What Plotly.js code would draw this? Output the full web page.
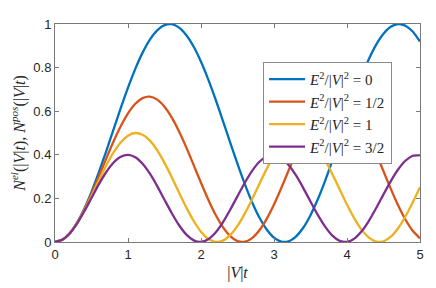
<!DOCTYPE html>
<html><head><meta charset="utf-8">
<script src="https://cdn.plot.ly/plotly-3.0.1.min.js"></script>
<style>html,body{margin:0;padding:0;background:#fff}#c{width:436px;height:288px}</style>
</head><body><div id="c"></div>
<script>
const t = [0,0.1,0.2,0.3,0.4,0.5,0.6,0.7,0.8,0.9,1.0,1.1,1.2,1.3,1.4,1.5,1.6,1.7,1.8,1.9,2.0,2.1,2.2,2.3,2.4,2.5,2.6,2.7,2.8,2.9,3.0,3.1,3.2,3.3,3.4,3.5,3.6,3.7,3.8,3.9,4.0,4.1,4.2,4.3,4.4,4.5,4.6,4.7,4.8,4.9,5.0];
const nE0 = [0,0.00997,0.03947,0.08733,0.15164,0.22985,0.31882,0.41502,0.51460,0.61360,0.70807,0.79425,0.86869,0.92845,0.97111,0.99499,0.99915,0.98339,0.94838,0.89548,0.82682,0.74513,0.65367,0.55608,0.45625,0.35817,0.26574,0.18265,0.11222,0.05724,0.01991,0.00173,0.00341,0.02489,0.06530,0.12305,0.19582,0.28073,0.37437,0.47303,0.57275,0.66958,0.75965,0.83937,0.90554,0.95557,0.98742,0.99984,0.99234,0.96521,0.91953];
const nEhalf = [0,0.00995,0.03920,0.08602,0.14760,0.22027,0.29969,0.38112,0.45969,0.53072,0.58997,0.63389,0.65988,0.66636,0.65297,0.62049,0.57087,0.50707,0.43289,0.35278,0.27150,0.19391,0.12465,0.06784,0.02689,0.00423,0.00122,0.01803,0.05367,0.10601,0.17192,0.24746,0.32813,0.40911,0.48557,0.55294,0.60720,0.64510,0.66440,0.66393,0.64373,0.60499,0.55003,0.48214,0.40537,0.32429,0.24375,0.16857,0.10321,0.05160,0.01681];
const nE1 = [0,0.00993,0.03894,0.08473,0.14365,0.21101,0.28148,0.34945,0.40951,0.45690,0.48784,0.49989,0.49207,0.46502,0.42088,0.36317,0.29646,0.22605,0.15756,0.09640,0.04745,0.01460,0.00046,0.00615,0.03121,0.07366,0.13013,0.19612,0.26639,0.33536,0.39755,0.44801,0.48274,0.49897,0.49541,0.47236,0.43163,0.37647,0.31126,0.24118,0.17180,0.10864,0.05671,0.02014,0.00184,0.00326,0.02428,0.06325,0.11705,0.18142,0.25124];
const nE3half = [0,0.00992,0.03869,0.08345,0.13977,0.20207,0.26416,0.31989,0.36373,0.39133,0.39996,0.38876,0.35884,0.31316,0.25627,0.19380,0.13194,0.07683,0.03393,0.00751,0.00017,0.01265,0.04371,0.09027,0.14771,0.21034,0.27193,0.32641,0.36834,0.39357,0.39962,0.38586,0.35367,0.30625,0.24828,0.18553,0.12422,0.07042,0.02947,0.00543,0.00068,0.01571,0.04901,0.09728,0.15574,0.21859,0.27960,0.33271,0.37266,0.39549,0.39893];
const seriesNames = [
  '<i>E</i><sup>2</sup>/|<i>V</i>|<sup>2</sup> = 0',
  '<i>E</i><sup>2</sup>/|<i>V</i>|<sup>2</sup> = 1/2',
  '<i>E</i><sup>2</sup>/|<i>V</i>|<sup>2</sup> = 1',
  '<i>E</i><sup>2</sup>/|<i>V</i>|<sup>2</sup> = 3/2'
];
const xTicks = [0,1,2,3,4,5];
const yTicks = [0,0.2,0.4,0.6,0.8,1];
const yTickText = ['0','0.2','0.4','0.6','0.8','1'];
const colors = ['#0072BD','#D95319','#EDB120','#7E2F8E'];
const ys = [nE0, nEhalf, nE1, nE3half];
const traces = ys.map((y,i)=>({x:t, y:y, type:'scatter', mode:'lines', name:seriesNames[i],
  line:{color:colors[i], width:2.3, shape:'spline', smoothing:0.6}}));
const axCommon = {showgrid:false, zeroline:false, showline:true, linecolor:'#7a7a7a', linewidth:1,
  mirror:'ticks', ticks:'inside', ticklen:4, tickcolor:'#7a7a7a',
  tickfont:{family:'Liberation Sans, Arial, sans-serif', size:13, color:'#262626'}};
const layout = {
  width:436, height:288, margin:{l:55, r:16, t:24, b:46},
  paper_bgcolor:'#fff', plot_bgcolor:'#fff',
  xaxis:Object.assign({}, axCommon, {range:[0,5], tickvals:xTicks, ticktext:xTicks.map(String),
    title:{text:'|<i>V</i>|<i>t</i>', font:{family:'Liberation Serif, serif', size:16, color:'#262626'}, standoff:6}}),
  yaxis:Object.assign({}, axCommon, {range:[0,1], tickvals:yTicks, ticktext:yTickText,
    title:{text:'<i>N<sup>el</sup></i>(|<i>V</i>|<i>t</i>), <i>N<sup>pos</sup></i>(|<i>V</i>|<i>t</i>)', font:{family:'Liberation Serif, serif', size:16, color:'#262626'}, standoff:3}}),
  legend:{x:0.57, y:0.826, xanchor:'left', yanchor:'top', bgcolor:'#fff', bordercolor:'#8a8a8a', borderwidth:1,
    font:{family:'Liberation Serif, serif', size:15, color:'#262626'}, itemwidth:36, tracegroupgap:0},
  showlegend:true
};
Plotly.newPlot('c', traces, layout, {staticPlot:true, displayModeBar:false});
</script></body></html>
